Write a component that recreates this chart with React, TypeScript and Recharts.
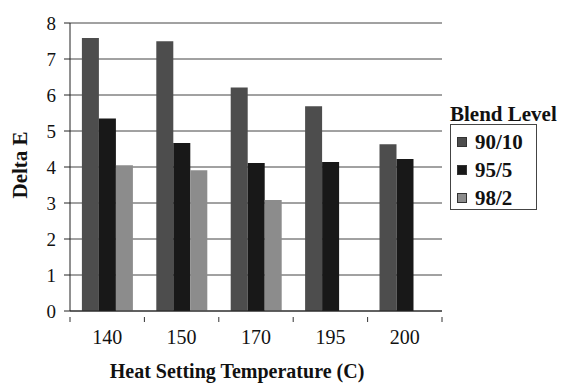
import React from 'react';
import { BarChart, Bar, XAxis, YAxis, CartesianGrid, Legend } from 'recharts';

const categories = ['140', '150', '170', '195', '200'];
const blend9010 = [7.58, 7.49, 6.21, 5.69, 4.63];
const blend955 = [5.35, 4.67, 4.11, 4.14, 4.22];
const blend982: (number | null)[] = [4.05, 3.91, 3.08, null, null];
const yTicks = [0, 1, 2, 3, 4, 5, 6, 7, 8];
const seriesNames = ['90/10', '95/5', '98/2'];
const seriesColors = ['#4d4d4d', '#181818', '#8c8c8c'];

const data = categories.map((c, i) => ({
  cat: c,
  s1: blend9010[i],
  s2: blend955[i],
  s3: blend982[i],
}));

const FONT = '"Liberation Serif", "Times New Roman", serif';

const CatTick = (props: any) => {
  const { x, y, payload, index, visibleTicksCount } = props;
  const half = payload && typeof payload.offset === 'number' && payload.offset > 0 ? payload.offset : 37.2;
  const axisY = y - 13;
  const isLast = index === (visibleTicksCount ?? categories.length) - 1;
  return (
    <g>
      <line x1={x - half} x2={x - half} y1={axisY} y2={axisY + 5} stroke="#333" />
      {isLast && <line x1={x + half} x2={x + half} y1={axisY} y2={axisY + 5} stroke="#333" />}
      <text x={x} y={y} dy="0.71em" textAnchor="middle" fontFamily={FONT} fontSize={20} fill="#111">
        {payload.value}
      </text>
    </g>
  );
};

const LegendBox = (props: any) => {
  const payload = props.payload || [];
  return (
    <div style={{ fontFamily: FONT, fontWeight: 'bold', color: '#111' }}>
      <div style={{ fontSize: 21, lineHeight: '20px', height: 20, whiteSpace: 'nowrap' }}>Blend Level</div>
      <div
        style={{
          border: '1px solid #444',
          padding: '3px 0 0 6px',
          width: 87,
          height: 86,
          boxSizing: 'border-box',
        }}
      >
        {payload.map((p: any) => (
          <div key={p.value} style={{ display: 'flex', alignItems: 'center', fontSize: 21, height: 28 }}>
            <span
              style={{
                display: 'inline-block',
                width: 10,
                height: 10,
                background: p.color,
                border: '1px solid #333',
                marginRight: 8,
                boxSizing: 'border-box',
                flex: 'none',
              }}
            />
            <span>{p.value}</span>
          </div>
        ))}
      </div>
    </div>
  );
};

const YLabel = (props: any) => {
  const vb = props.viewBox || {};
  const cy = vb.y + vb.height / 2 - 2;
  const cx = 20;
  return (
    <text
      x={cx}
      y={cy}
      transform={`rotate(-90, ${cx}, ${cy})`}
      textAnchor="middle"
      dominantBaseline="central"
      fontFamily={FONT}
      fontWeight="bold"
      fontSize={21}
      fill="#111"
    >
      Delta E
    </text>
  );
};

export default function App() {
  return (
    <div style={{ position: 'absolute', left: 0, top: 0, background: '#fff' }}>
      <BarChart
        width={563}
        height={388}
        data={data}
        margin={{ top: 23, right: 121, bottom: 17, left: 0 }}
        barCategoryGap="16%"
        barGap={0}
      >
        <CartesianGrid vertical={false} stroke="#444" strokeWidth={1} />
        <XAxis
          dataKey="cat"
          height={60}
          interval={0}
          tickLine={false}
          axisLine={{ stroke: '#222' }}
          tick={<CatTick />}
          tickMargin={13}
          label={{
            value: 'Heat Setting Temperature (C)',
            position: 'insideBottom',
            offset: -7,
            dx: -19,
            style: { fontFamily: FONT, fontWeight: 'bold', fontSize: 20, fill: '#111' },
          }}
        />
        <YAxis
          width={70}
          domain={[0, 8]}
          ticks={yTicks}
          interval={0}
          axisLine={{ stroke: '#222' }}
          tickLine={{ stroke: '#222' }}
          tickSize={6}
          tickMargin={8}
          tick={{ fontFamily: FONT, fontSize: 19, fill: '#111' }}
          label={<YLabel />}
        />
        <YAxis
          yAxisId="right"
          orientation="right"
          width={0}
          domain={[0, 8]}
          tick={false}
          tickLine={false}
          axisLine={{ stroke: '#444' }}
        />
        <Legend
          layout="vertical"
          align="center"
          verticalAlign="middle"
          wrapperStyle={{ left: 450, top: 104, width: 113 }}
          content={<LegendBox />}
        />
        <Bar dataKey="s1" name={seriesNames[0]} fill={seriesColors[0]} isAnimationActive={false} />
        <Bar dataKey="s2" name={seriesNames[1]} fill={seriesColors[1]} isAnimationActive={false} />
        <Bar dataKey="s3" name={seriesNames[2]} fill={seriesColors[2]} isAnimationActive={false} />
      </BarChart>
    </div>
  );
}
